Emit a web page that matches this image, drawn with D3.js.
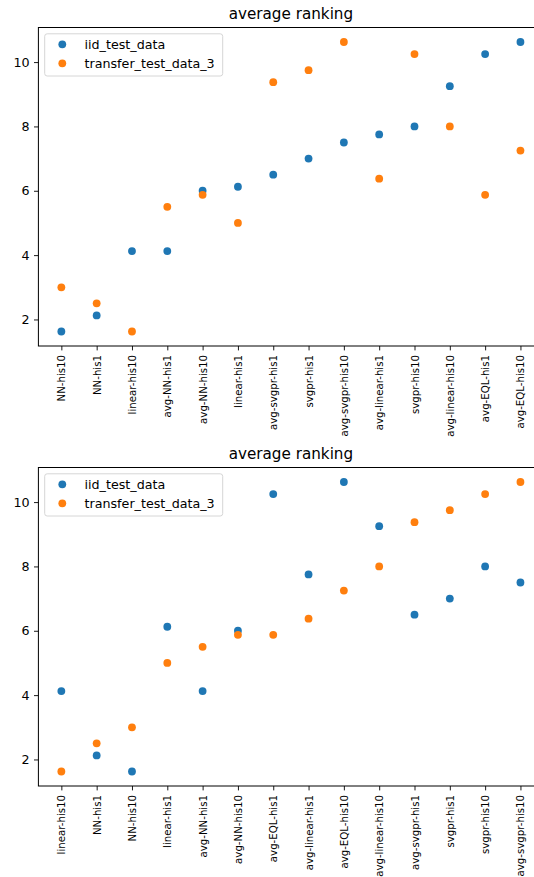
<!DOCTYPE html>
<html><head><meta charset="utf-8">
<script src="https://cdn.jsdelivr.net/npm/d3@7"></script>
<style>html,body{margin:0;padding:0;background:#fff;overflow:hidden}</style>
</head><body><svg id="chart" width="534" height="877"></svg>
<script>
// ---- data ----
const categoriesTop = ["NN-his10","NN-his1","linear-his10","avg-NN-his1","avg-NN-his10","linear-his1","avg-svgpr-his1","svgpr-his1","avg-svgpr-his10","avg-linear-his1","svgpr-his10","avg-linear-his10","avg-EQL-his1","avg-EQL-his10"];
const iidTop      = [1.625, 2.125, 4.125, 4.125, 6.0, 6.125, 6.5, 7.0, 7.5, 7.75, 8.0, 9.25, 10.25, 10.625];
const transferTop = [3.0, 2.5, 1.625, 5.5, 5.875, 5.0, 9.375, 9.75, 10.625, 6.375, 10.25, 8.0, 5.875, 7.25];

const categoriesBottom = ["linear-his10","NN-his1","NN-his10","linear-his1","avg-NN-his1","avg-NN-his10","avg-EQL-his1","avg-linear-his1","avg-EQL-his10","avg-linear-his10","avg-svgpr-his1","svgpr-his1","svgpr-his10","avg-svgpr-his10"];
const iidBottom      = [4.125, 2.125, 1.625, 6.125, 4.125, 6.0, 10.25, 7.75, 10.625, 9.25, 6.5, 7.0, 8.0, 7.5];
const transferBottom = [1.625, 2.5, 3.0, 5.0, 5.5, 5.875, 5.875, 6.375, 7.25, 8.0, 9.375, 9.75, 10.25, 10.625];

const seriesNames = ["iid_test_data", "transfer_test_data_3"];
const seriesColors = ["#1f77b4", "#ff7f0e"];
const yTicks = [2, 4, 6, 8, 10];
const chartTitle = "average ranking";

// ---- drawing ----
const svg = d3.select("#chart");
const FONT = "DejaVu Sans, sans-serif";
const axLeft = 38.4, axRight = 543.4, axHeight = 318.5;

function drawPanel(top, cats, iid, transfer) {
  const bottom = top + axHeight;
  const g = svg.append("g");
  const x = d3.scalePoint().domain(cats).range([axLeft, axRight]).padding(0.65);
  const allVals = iid.concat(transfer);
  const mn = d3.min(allVals), mx = d3.max(allVals), m = (mx - mn) * 0.05;
  const y = d3.scaleLinear().domain([mn - m, mx + m]).range([bottom, top]);

  // points
  [iid, transfer].forEach((vals, si) => {
    g.append("g").selectAll("circle").data(cats).join("circle")
      .attr("cx", d => x(d))
      .attr("cy", (d, i) => y(vals[i]))
      .attr("r", 3.9)
      .attr("fill", seriesColors[si]);
  });

  // x axis
  const xa = g.append("g").attr("transform", `translate(0,${bottom})`)
    .call(d3.axisBottom(x).tickSize(4.4).tickPadding(0).tickSizeOuter(0));
  xa.select(".domain").remove();
  xa.selectAll(".tick line").attr("stroke", "#000").attr("stroke-width", 0.9);
  xa.selectAll(".tick text")
    .attr("font-family", FONT).attr("font-size", 10.2).attr("fill", "#000")
    .attr("text-anchor", "end")
    .attr("dominant-baseline", "central")
    .attr("dy", null).attr("y", null)
    .attr("transform", "translate(0,9) rotate(-90)");

  // y axis
  const ya = g.append("g").attr("transform", `translate(${axLeft},0)`)
    .call(d3.axisLeft(y).tickValues(yTicks).tickSize(4.4).tickPadding(4.4).tickSizeOuter(0));
  ya.select(".domain").remove();
  ya.selectAll(".tick line").attr("stroke", "#000").attr("stroke-width", 0.9);
  ya.selectAll(".tick text").attr("font-family", FONT).attr("font-size", 12.7).attr("fill", "#000");

  // spines
  g.append("rect").attr("x", axLeft).attr("y", top)
    .attr("width", axRight - axLeft).attr("height", axHeight)
    .attr("fill", "none").attr("stroke", "#000").attr("stroke-width", 1);

  // title
  g.append("text").attr("x", (axLeft + axRight) / 2).attr("y", top - 8.7)
    .attr("text-anchor", "middle").attr("font-family", FONT).attr("font-size", 15.2)
    .attr("fill", "#000").text(chartTitle);

  // legend
  const lg = g.append("g");
  lg.append("rect").attr("x", axLeft + 6.3).attr("y", top + 6.3)
    .attr("width", 178).attr("height", 42.2).attr("rx", 2.5)
    .attr("fill", "#fff").attr("fill-opacity", 0.8)
    .attr("stroke", "#d6d6d6").attr("stroke-width", 1);
  seriesNames.forEach((name, i) => {
    const cy = top + 16.8 + i * 19;
    lg.append("circle").attr("cx", 62.3).attr("cy", cy).attr("r", 3.9).attr("fill", seriesColors[i]);
    lg.append("text").attr("x", 84.5).attr("y", cy).attr("dominant-baseline", "central")
      .attr("font-family", FONT).attr("font-size", 12.7).attr("fill", "#000").text(name);
  });
}

drawPanel(27.5, categoriesTop, iidTop, transferTop);
drawPanel(467.5, categoriesBottom, iidBottom, transferBottom);
</script>
</body></html>
